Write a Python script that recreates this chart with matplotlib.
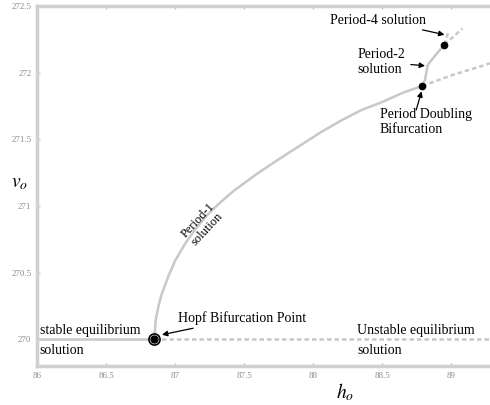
import matplotlib
matplotlib.use("Agg")
import matplotlib.pyplot as plt

plt.rcParams['font.family'] = ['Liberation Serif', 'DejaVu Serif']
plt.rcParams['mathtext.fontset'] = 'stix'

# ---- data ----
eq_stable_h = [86.0, 86.85]
eq_stable_v = [270.0, 270.0]
eq_unstable_h = [86.85, 89.28]
eq_unstable_v = [270.0, 270.0]

p1_h = [86.85, 86.86, 86.88, 86.90, 86.95, 87.00, 87.08, 87.15, 87.23, 87.32,
        87.42, 87.59, 87.75, 87.90, 88.05, 88.20, 88.35, 88.50, 88.65, 88.79]
p1_v = [270.00, 270.15, 270.25, 270.33, 270.47, 270.59, 270.73, 270.83, 270.93, 271.02,
        271.11, 271.24, 271.35, 271.45, 271.55, 271.64, 271.72, 271.78, 271.85, 271.90]

p1u_h = [88.79, 89.00, 89.19, 89.28]
p1u_v = [271.90, 271.98, 272.04, 272.07]

p2_h = [88.79, 88.81, 88.83, 88.90, 88.95]
p2_v = [271.90, 271.95, 272.06, 272.15, 272.21]

p4a_h = [88.95, 88.98]
p4a_v = [272.21, 272.31]
p4b_h = [88.95, 89.08]
p4b_v = [272.21, 272.33]

hopf = (86.85, 270.0)
pdb = (88.79, 271.90)
p4pt = (88.95, 272.21)

xticks = [86, 86.5, 87, 87.5, 88, 88.5, 89]
xticklabels = ['86', '86.5', '87', '87.5', '88', '88.5', '89']
yticks = [270, 270.5, 271, 271.5, 272, 272.5]
yticklabels = ['270', '270.5', '271', '271.5', '272', '272.5']

LC = '#c8c8c8'
fig = plt.figure(figsize=(4.9, 4.05), dpi=100)
ax = fig.add_axes([37/490, 1-366/405, 1-37/490, (366-6)/405])
ax.set_xlim(86, 89.28)
ax.set_ylim(269.8, 272.5)

for s in ['left', 'top', 'bottom']:
    ax.spines[s].set_color('#d0d0d0')
    ax.spines[s].set_linewidth(2.5)
ax.spines['right'].set_visible(False)

ax.set_xticks(xticks)
ax.set_xticklabels(xticklabels)
ax.set_yticks(yticks)
ax.set_yticklabels(yticklabels)
ax.tick_params(direction='in', length=2.5, width=1, color='#c0c0c0',
               labelsize=6.5, labelcolor='#8c8c8c', top=True, pad=4)

ax.plot(eq_stable_h, eq_stable_v, color=LC, lw=1.8, solid_capstyle='butt')
ax.plot(eq_unstable_h, eq_unstable_v, color=LC, lw=1.8, ls=(0, (1.8, 1.2)))
ax.plot(p1_h, p1_v, color=LC, lw=1.8)
ax.plot(p1u_h, p1u_v, color=LC, lw=1.8, ls=(0, (1.8, 1.2)))
ax.plot(p2_h, p2_v, color=LC, lw=1.8)
ax.plot(p4a_h, p4a_v, color=LC, lw=1.8, ls=(0, (1.8, 1.2)))
ax.plot(p4b_h, p4b_v, color=LC, lw=1.8, ls=(0, (1.8, 1.2)))

ax.plot(*hopf, 'o', ms=8, mfc='white', mec='black', mew=1.2, zorder=5)
ax.plot(*hopf, 'o', ms=5, color='black', zorder=6)
ax.plot(*pdb, 'o', ms=4.5, color='black', zorder=5)
ax.plot(*p4pt, 'o', ms=4.5, color='black', zorder=5)

fs = 10
ap = dict(arrowstyle='-|>', color='black', lw=0.9, mutation_scale=8)
ax.annotate('Period-4 solution', xy=(88.97, 272.28), xytext=(88.12, 272.395),
            fontsize=fs, ha='left', va='center', arrowprops=ap)
ax.annotate('Period-2\nsolution', xy=(88.83, 272.05), xytext=(88.32, 272.08),
            fontsize=fs, ha='left', va='center', linespacing=1.25, arrowprops=ap)
ax.annotate('', xy=(88.79, 271.88), xytext=(88.74, 271.70), arrowprops=ap)
ax.text(88.48, 271.735, 'Period Doubling\nBifurcation', fontsize=fs, ha='left', va='top', linespacing=1.15)
ax.annotate('Hopf Bifurcation Point', xy=(86.885, 270.03), xytext=(87.02, 270.16),
            fontsize=fs, ha='left', va='center', arrowprops=ap)
ax.text(86.02, 270.07, 'stable equilibrium', fontsize=fs, ha='left', va='center')
ax.text(86.02, 269.92, 'solution', fontsize=fs, ha='left', va='center')
ax.text(88.32, 270.07, 'Unstable equilibrium', fontsize=fs, ha='left', va='center')
ax.text(88.32, 269.92, 'solution', fontsize=fs, ha='left', va='center')
ax.text(87.20, 270.86, 'Period-1\nsolution', fontsize=9, ha='center', va='center',
        rotation=47, rotation_mode='anchor', linespacing=1.0)

fig.text(20/490, 1-183/405, r'$v_o$', fontsize=14, ha='center', va='center')
fig.text(345/490, 1-392/405, r'$h_o$', fontsize=14, ha='center', va='center')

fig.savefig('out.png', dpi=100)
